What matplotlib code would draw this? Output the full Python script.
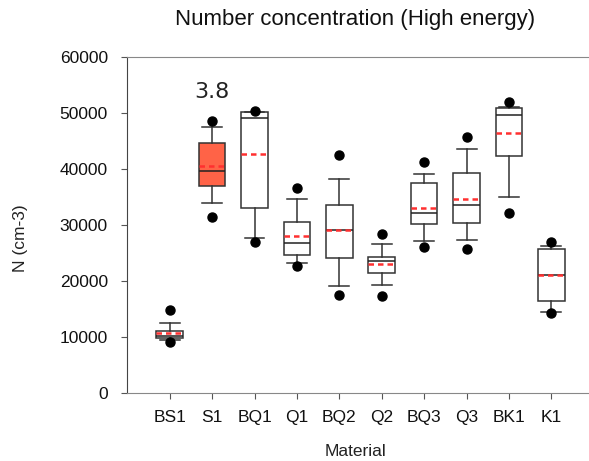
import matplotlib
matplotlib.use("Agg")
import matplotlib.pyplot as plt

plt.rcParams['font.family'] = ['Liberation Sans', 'DejaVu Sans']

materials = ["BS1", "S1", "BQ1", "Q1", "BQ2", "Q2", "BQ3", "Q3", "BK1", "K1"]
q1 = [9900, 36960, 33040, 24640, 24170, 21490, 30130, 30300, 42320, 16370]
med = [10200, 39700, 49170, 26850, 29110, 23630, 32140, 33630, 49640, 21100]
q3 = [11000, 44700, 50120, 30600, 33510, 24230, 37500, 39230, 50890, 25710]
whis_lo = [9460, 33870, 27740, 23150, 19110, 19350, 27080, 27260, 35060, 14400]
whis_hi = [12440, 47560, 50120, 34580, 38150, 26670, 39050, 43570, 51130, 26310]
means = [10650, 40540, 42680, 28100, 29110, 23100, 33100, 34580, 46430, 21010]
out_hi = [14820, 48570, 50360, 36540, 42440, 28330, 41250, 45650, 51900, 27020]
out_lo = [9170, 31490, 27020, 22740, 17500, 17380, 26010, 25770, 32080, 14290]

stats = []
for i, m in enumerate(materials):
    stats.append(dict(label=m, q1=q1[i], med=med[i], q3=q3[i],
                      whislo=whis_lo[i], whishi=whis_hi[i], mean=means[i],
                      fliers=[out_hi[i], out_lo[i]]))

fig = plt.figure(figsize=(5.89, 4.61), dpi=100)
ax = fig.add_axes([0.2161, 0.1475, 0.792, 0.7289])

bp = ax.bxp(stats, positions=range(1, 11), widths=0.63, patch_artist=True,
            showmeans=True, meanline=True,
            boxprops=dict(facecolor='white', edgecolor='#333333', linewidth=1.1),
            whiskerprops=dict(color='#333333', linewidth=1.1),
            capprops=dict(color='#333333', linewidth=1.1),
            capwidths=0.47,
            medianprops=dict(color='#222222', linewidth=1.1),
            meanprops=dict(color='#ff3030', linestyle=(0, (2.2, 1.6)), linewidth=1.8),
            flierprops=dict(marker='o', markerfacecolor='black', markeredgecolor='black',
                            markersize=6.5))
bp['boxes'][1].set_facecolor('#ff6347')

ax.text(2, 53800, "3.8", ha='center', va='center', fontsize=16, family='DejaVu Sans',
        color='#222222')

ax.set_xlim(0, 11)
ax.set_ylim(0, 60000)
ax.set_yticks(range(0, 60001, 10000))
ax.set_xticks(range(1, 11))
ax.set_xticklabels(materials)
ax.tick_params(labelsize=12.5, length=4, color='#555555', labelcolor='#111111')
ax.tick_params(axis='x', pad=8)
ax.tick_params(axis='y', pad=10)
for s in ['top', 'bottom']:
    ax.spines[s].set_color('#888888')
ax.spines['left'].set_color('#444444')
ax.spines['right'].set_visible(False)

fig.text(355 / 589, 1 - 20 / 461, "Number concentration (High energy)", fontsize=16,
         ha='center', va='center', color='#111111')
fig.text(355 / 589, 1 - 451 / 461, "Material", fontsize=12.5,
         ha='center', va='center', color='#222222')
fig.text(20 / 589, 1 - 238 / 461, "N (cm-3)", fontsize=12.5, rotation=90,
         ha='center', va='center', color='#222222')

fig.savefig("out.png", dpi=100)
